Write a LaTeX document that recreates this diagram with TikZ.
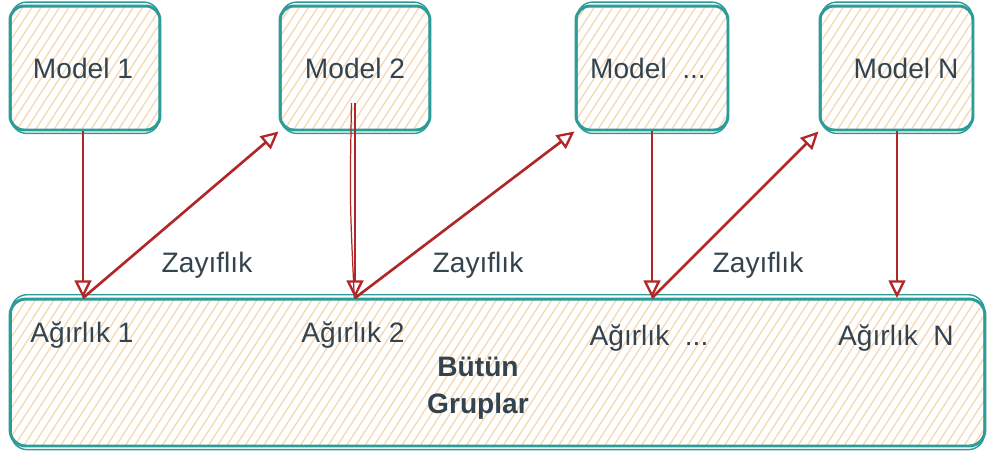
\documentclass[tikz,border=0pt]{standalone}
\usepackage{fontspec}
\setmainfont{Liberation Sans}
\usetikzlibrary{arrows.meta,patterns.meta}

\definecolor{boxline}{HTML}{2B9C98}
\definecolor{hatch}{HTML}{F6D8B2}
\definecolor{arrowred}{HTML}{B12626}
\definecolor{txt}{HTML}{34444E}

\tikzset{
  hatched/.style={pattern={Lines[angle=57,distance=4.4pt,line width=0.75pt]}, pattern color=hatch},
  modelbox/.style={hatched, draw=boxline, line width=1.7pt, rounded corners=8pt,
    minimum width=3cm, minimum height=2.48cm, inner sep=0pt,
    text=txt, font=\fontsize{16}{19}\selectfont},
  groupbox/.style={hatched, draw=boxline, line width=1.7pt, rounded corners=9pt,
    minimum width=19.5cm, minimum height=2.94cm, inner sep=0pt},
  sketchline/.style={draw=boxline, line width=0.8pt, rounded corners=9pt},
  lbl/.style={text=txt, font=\fontsize{16}{19}\selectfont, inner sep=1pt},
  grplbl/.style={text=txt, font=\fontsize{16}{21}\selectfont\bfseries, align=center, inner sep=1pt},
  arr/.style={draw=arrowred, line width=1.5pt,
    -{Triangle[open, length=10pt, width=9.5pt, line width=1.3pt]}}
}

\newcommand{\sketchrim}[1]{%
  \draw[sketchline] ([xshift=1.4pt,yshift=-1.1pt]#1.south west) rectangle ([xshift=-1.1pt,yshift=1.4pt]#1.north east);}

\begin{document}
\begin{tikzpicture}[x=0.02cm,y=-0.02cm]
  \fill[white] (0,0) rectangle (990,454);
  \useasboundingbox (0,0) rectangle (990,454);

  % model boxes
  \node[modelbox] (m1) at (85,68) {\hspace*{-0.08cm}Model 1};
  \node[modelbox] (m2) at (355,68) {Model 2};
  \node[modelbox, minimum width=3.04cm] (m3) at (652,68) {\hspace*{-0.16cm}Model\ \ ...};
  \node[modelbox, minimum width=3.06cm] (m4) at (896.5,68) {\hspace*{0.38cm}Model N};
  \sketchrim{m1}
  \sketchrim{m2}
  \sketchrim{m3}
  \sketchrim{m4}

  % the group box holding all weights
  \node[groupbox] (all) at (497.5,372.5) {};
  \draw[sketchline] ([xshift=1.5pt,yshift=-1.2pt]all.south west) rectangle ([xshift=-1.2pt,yshift=1.6pt]all.north east);

  \node[lbl] (a1) at (82,335) {Ağırlık 1};
  \node[lbl] (a2) at (353,335) {Ağırlık 2};
  \node[lbl] (a3) at (649,338) {Ağırlık\ \ ...};
  \node[lbl] (a4) at (896,338) {Ağırlık\ \ N};
  \node[grplbl] (grp) at (478,388) {Bütün\\Gruplar};

  % entry points on the top edge of the group box
  \coordinate (w1) at (83,298);
  \coordinate (w2) at (355,298);
  \coordinate (w3) at (652,298);
  \coordinate (w4) at (897,298);
  \coordinate (m2src) at (355,103);

  % model -> weight
  \draw[arr] (m1.south -| w1) -- (w1);
  \draw[arr] (m2src) -- (w2);
  \draw[draw=arrowred, line width=0.7pt] ([xshift=-2pt]m2src) .. controls ([xshift=-3pt]355,200) .. ([xshift=-0.4pt]w2);
  \draw[arr] (m3.south -| w3) -- (w3);
  \draw[arr] (m4.south -| w4) -- (w4);

  % weakness fed back to the next model
  \draw[arr] (w1) -- (m2.south west);
  \draw[arr] (w2) -- (m3.south west);
  \draw[arr] (w3) -- (m4.south west);

  \node[lbl] (z1) at (207,265) {Zayıflık};
  \node[lbl] (z2) at (478,265) {Zayıflık};
  \node[lbl] (z3) at (758,265) {Zayıflık};
\end{tikzpicture}
\end{document}
